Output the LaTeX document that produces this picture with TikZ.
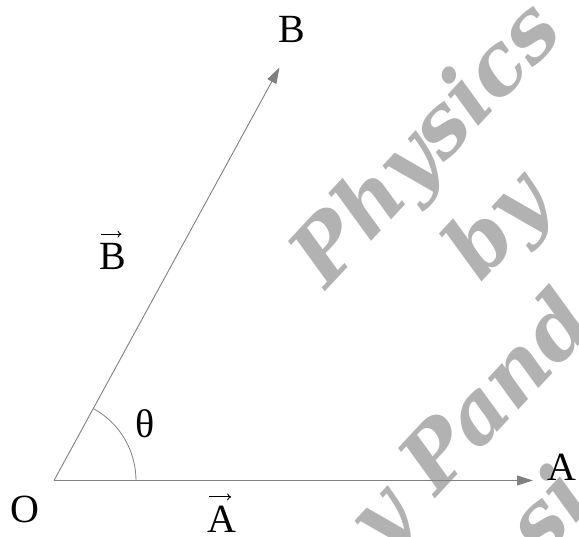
\documentclass[tikz,border=0pt]{standalone}
\usepackage{fontspec}
\setmainfont{Liberation Serif}
\newfontfamily\wmfont{DejaVu Serif}
\usetikzlibrary{arrows.meta}
\definecolor{linegray}{RGB}{128,128,128}
\definecolor{wmgray}{RGB}{178,178,178}
\begin{document}
\begin{tikzpicture}[x=1pt,y=1pt,
  vecline/.style={draw=linegray, line width=0.9pt, -{Triangle[length=16pt,width=10pt]}},
  anglearc/.style={draw=linegray, line width=0.8pt},
  lbl/.style={font=\fontsize{40}{48}\selectfont, inner sep=0pt, anchor=base},
  vecmark/.style={draw=black, line width=0.9pt, -{To[length=4pt,width=7pt]}},
  wm/.style={text=wmgray, font=\wmfont\bfseries\itshape\fontsize{84}{96}\selectfont, inner sep=0pt, anchor=base}]
\useasboundingbox (0,0) rectangle (579,537);
\clip (0,0) rectangle (579,537);
\begin{scope}[shift={(436,379)}, rotate=47, transform shape]
  \node[wm] (w1) at (4,-10) {Physics};
  \node[wm] (w2) at (-8,-118) {by};
  \node[wm, anchor=base west] (w3) at (-248,-232) {\llap{y\ }Pand};
  \node[wm, anchor=base west] (w4) at (-222,-352) {si};
\end{scope}
\coordinate (o) at (54,56.5);
\coordinate (a) at (533,56.5);
\coordinate (b) at (279.5,469.5);
\draw[vecline] (o) -- (a);
\draw[vecline] (o) -- (b);
\draw[anglearc] ([shift={(0:82)}]o) arc[start angle=0, end angle=61.4, radius=82];
\node[lbl] (lO) at (25,14) {O};
\node[lbl] (lA) at (561.5,56) {A};
\node[lbl] (lB) at (292,494) {B};
\node[lbl] (lth) at (145,99) {θ};
\node[lbl] (vA) at (221.5,4) {A};
\node[lbl] (vB) at (113,267) {B};
\draw[vecmark] ([xshift=2pt,yshift=9.5pt]vA.north west) -- ([xshift=-5pt,yshift=9.5pt]vA.north east);
\draw[vecmark] ([xshift=2pt,yshift=9.5pt]vB.north west) -- ([xshift=-5pt,yshift=9.5pt]vB.north east);
\end{tikzpicture}
\end{document}
